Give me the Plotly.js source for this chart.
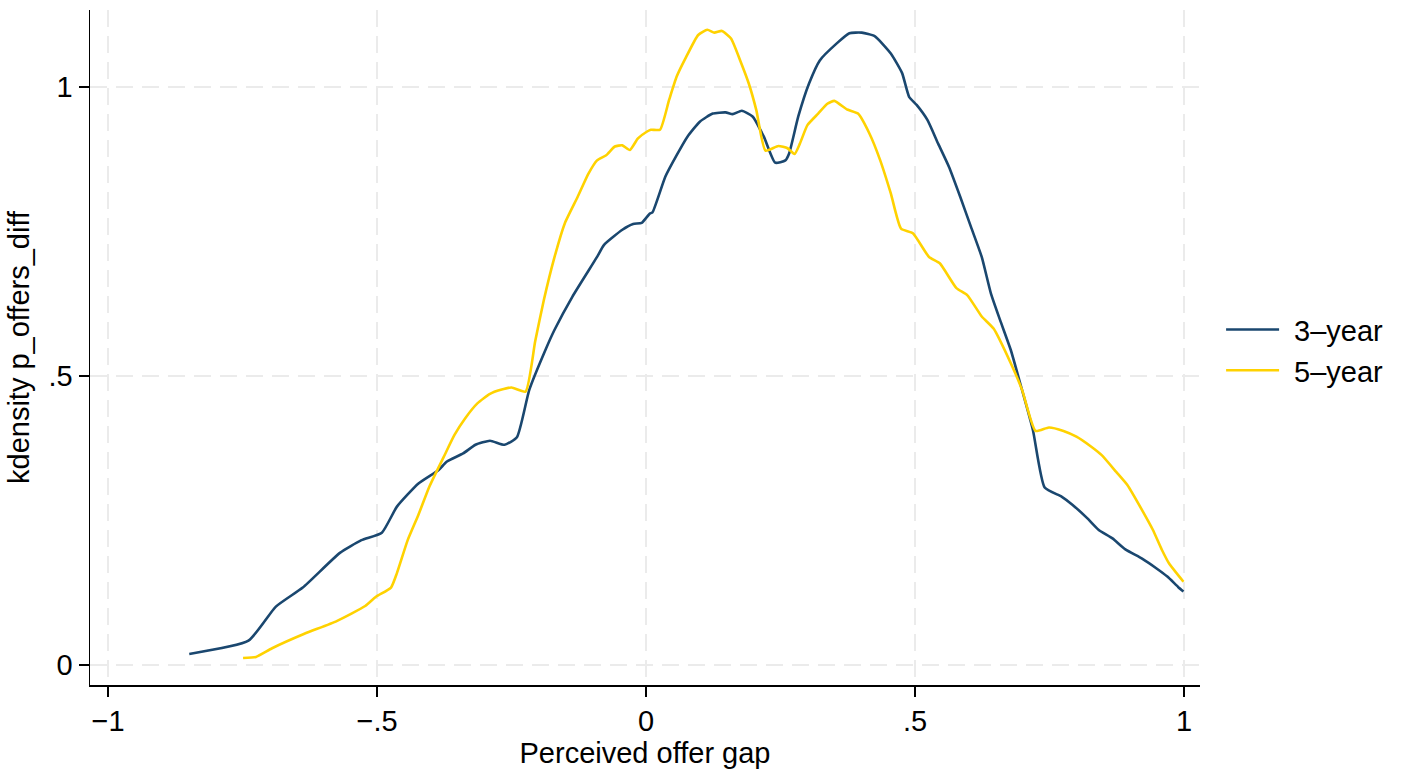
<!DOCTYPE html>
<html>
<head>
<meta charset="utf-8">
<script src="https://cdn.plot.ly/plotly-3.0.1.min.js"></script>
<style>html,body{margin:0;padding:0;background:#fff;}#chart{width:1405px;height:771px;}</style>
</head>
<body>
<div id="chart"></div>
<script>
const seriesNames = ["3–year", "5–year"];
const x3 = [-0.849,-0.739,-0.688,-0.638,-0.569,-0.529,-0.491,-0.463,-0.423,-0.386,-0.370,-0.340,-0.317,-0.290,-0.263,-0.240,-0.217,-0.187,-0.170,-0.137,-0.091,-0.078,-0.044,-0.024,-0.008,0.007,0.012,0.036,0.057,0.077,0.100,0.124,0.148,0.161,0.178,0.198,0.219,0.240,0.259,0.266,0.283,0.303,0.323,0.354,0.378,0.401,0.425,0.455,0.476,0.489,0.503,0.523,0.543,0.563,0.584,0.604,0.624,0.641,0.658,0.678,0.692,0.719,0.741,0.773,0.793,0.820,0.841,0.867,0.891,0.922,0.949,0.969,0.989,0.999];
const y3 = [0.019,0.042,0.101,0.134,0.194,0.216,0.229,0.274,0.314,0.337,0.352,0.366,0.381,0.388,0.381,0.394,0.476,0.545,0.580,0.637,0.706,0.727,0.753,0.763,0.765,0.781,0.783,0.845,0.882,0.914,0.940,0.954,0.956,0.953,0.959,0.949,0.914,0.869,0.873,0.885,0.949,1.006,1.046,1.075,1.093,1.094,1.088,1.058,1.024,0.983,0.969,0.943,0.902,0.862,0.810,0.758,0.706,0.643,0.597,0.545,0.499,0.407,0.307,0.291,0.277,0.254,0.234,0.219,0.200,0.184,0.167,0.153,0.135,0.127];
const x5 = [-0.749,-0.725,-0.695,-0.635,-0.575,-0.522,-0.502,-0.474,-0.463,-0.443,-0.423,-0.403,-0.376,-0.356,-0.336,-0.313,-0.290,-0.270,-0.250,-0.224,-0.206,-0.190,-0.170,-0.151,-0.127,-0.107,-0.091,-0.074,-0.058,-0.044,-0.030,-0.015,0.002,0.009,0.026,0.043,0.057,0.073,0.097,0.114,0.127,0.141,0.158,0.175,0.191,0.205,0.222,0.246,0.263,0.276,0.286,0.300,0.320,0.337,0.350,0.374,0.394,0.415,0.435,0.455,0.474,0.496,0.526,0.546,0.577,0.597,0.624,0.646,0.678,0.699,0.724,0.749,0.776,0.800,0.827,0.847,0.874,0.895,0.922,0.942,0.959,0.972,0.999];
const y5 = [0.012,0.014,0.029,0.054,0.076,0.102,0.118,0.134,0.159,0.216,0.260,0.308,0.360,0.398,0.427,0.453,0.469,0.476,0.480,0.473,0.560,0.631,0.706,0.764,0.810,0.850,0.873,0.882,0.897,0.899,0.891,0.911,0.923,0.926,0.926,0.978,1.018,1.049,1.090,1.099,1.094,1.097,1.084,1.046,1.006,0.960,0.890,0.898,0.894,0.884,0.902,0.934,0.954,0.971,0.976,0.961,0.954,0.920,0.874,0.816,0.755,0.747,0.706,0.695,0.652,0.640,0.603,0.582,0.522,0.476,0.405,0.411,0.405,0.395,0.378,0.363,0.334,0.311,0.268,0.234,0.199,0.176,0.144];
const xTickVals = [-1, -0.5, 0, 0.5, 1];
const xTickText = ["−1", "−.5", "0", ".5", "1"];
const yTickVals = [0, 0.5, 1];
const yTickText = ["0", ".5", "1"];

const font = {family: "Liberation Sans, Arial, sans-serif", size: 29, color: "#000"};
const traces = [
  {x: x3, y: y3, name: seriesNames[0], type: "scatter", mode: "lines", line: {color: "#1a476f", width: 2.6, shape: "spline", smoothing: 0.5}},
  {x: x5, y: y5, name: seriesNames[1], type: "scatter", mode: "lines", line: {color: "#ffd200", width: 2.6, shape: "spline", smoothing: 0.5}}
];
const axisCommon = {
  showline: true, linecolor: "#000", linewidth: 1.5,
  ticks: "outside", ticklen: 10, tickwidth: 1.5, tickcolor: "#000",
  showgrid: true, gridcolor: "#ebebeb", gridwidth: 2, griddash: "17px,9px",
  zeroline: false, tickfont: font, automargin: false
};
const layout = {
  width: 1405, height: 771,
  margin: {l: 90, r: 205, t: 10, b: 86},
  paper_bgcolor: "#fff", plot_bgcolor: "#fff",
  font: font,
  showlegend: true,
  legend: {x: 1.019, y: 0.496, xanchor: "left", yanchor: "middle", font: font, bgcolor: "rgba(0,0,0,0)", tracegroupgap: 0, itemwidth: 50},
  xaxis: Object.assign({}, axisCommon, {
    range: [-1.0335, 1.0297], tickvals: xTickVals, ticktext: xTickText,
    title: {text: "Perceived offer gap", font: font, standoff: 6}
  }),
  yaxis: Object.assign({}, axisCommon, {
    range: [-0.0346, 1.1332], tickvals: yTickVals, ticktext: yTickText,
    title: {text: "kdensity p_offers_diff", font: font, standoff: 10}
  })
};
Plotly.newPlot("chart", traces, layout, {displayModeBar: false, staticPlot: true}).then(function () {
  try {
    document.querySelectorAll("#chart .legend .legendlines path").forEach(function (p) {
      p.setAttribute("d", "M5,0h53");
    });
    document.querySelectorAll("#chart .legend text.legendtext").forEach(function (t) {
      t.setAttribute("x", "73");
    });
    document.querySelectorAll("#chart .legend, #chart .legend *").forEach(function (el) {
      if (el.hasAttribute("clip-path")) el.removeAttribute("clip-path");
    });
  } catch (e) {}
});
</script>
</body>
</html>
